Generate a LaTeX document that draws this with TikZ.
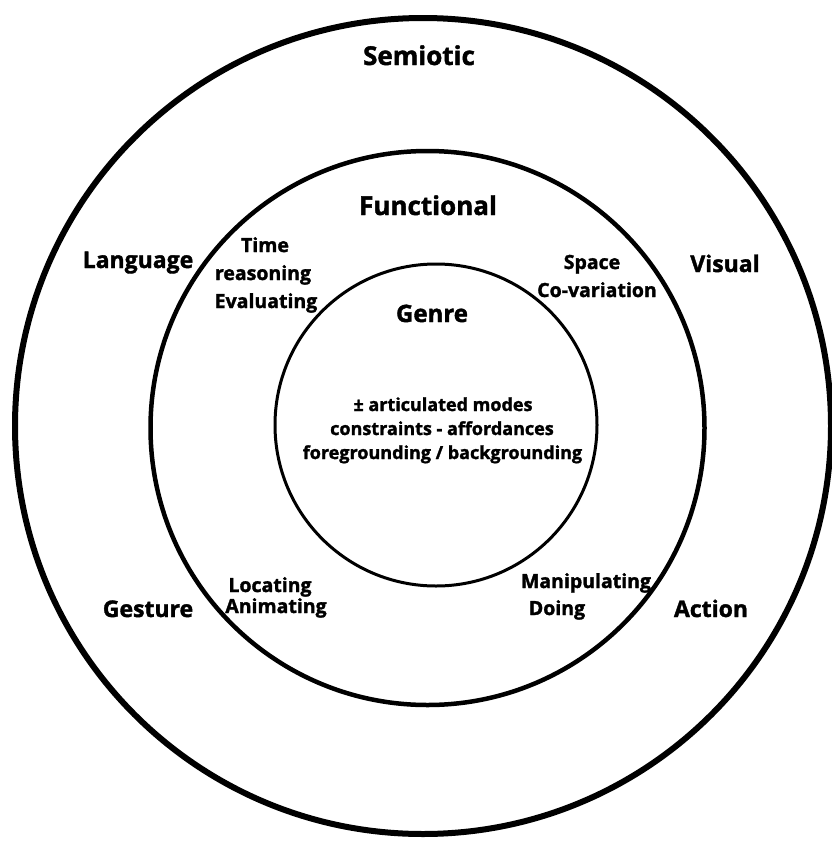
\documentclass[tikz,border=0pt]{standalone}
\usepackage{fontspec}
\setmainfont{Open Sans}[BoldFeatures={FakeBold=1.6}]
\begin{document}
\begin{tikzpicture}[x=1pt,y=-1pt,
  ring/.style={circle, draw=black, inner sep=0pt, outer sep=0pt},
  big/.style={anchor=base, font=\fontsize{26}{30}\selectfont\bfseries},
  label/.style={anchor=base, font=\fontsize{23}{26}\selectfont\bfseries},
  small/.style={anchor=base, font=\fontsize{19.5}{22}\selectfont\bfseries},
  body/.style={anchor=base, font=\fontsize{18}{20}\selectfont\bfseries}]
\useasboundingbox (0,0) rectangle (832,841);
\fill[white] (0,0) rectangle (832,841);

% three nested levels
\node[ring, line width=6pt, minimum size=816pt] (semioticring) at (423,426) {};
\node[ring, line width=4.5pt, minimum size=554pt] (functionalring) at (427.5,428) {};
\node[ring, line width=3pt, minimum size=322pt] (genrering) at (436,425) {};

% outer level: semiotic modes
\node[big] (semiotic) at (419,65) {Semiotic};
\node[label] (language) at (138,268) {Language};
\node[label] (visual) at (725,272) {Visual};
\node[label] (gesture) at (148,617) {Gesture};
\node[label] (action) at (711,617) {Action};

% middle level: functional
\node[big] (functional) at (428,215) {Functional};
\node[small] (time) at (265,252) {Time};
\node[small] (reasoning) at (263,280) {reasoning};
\node[small] (evaluating) at (266,308) {Evaluating};
\node[small] (space) at (592,269) {Space};
\node[small] (covariation) at (597,297) {Co-variation};
\node[small] (locating) at (270,592) {Locating};
\node[small] (animating) at (276,613) {Animating};
\node[small] (manipulating) at (586,588) {Manipulating};
\node[small] (doing) at (557,615) {Doing};

% inner level: genre
\node[anchor=base, font=\fontsize{24}{26}\selectfont\bfseries] (genre) at (432,322) {Genre};
\node[body] (articulated) at (443,411) {± articulated modes};
\node[body] (constraints) at (442,435) {constraints - affordances};
\node[body] (foregrounding) at (442.5,459) {foregrounding / backgrounding};
\end{tikzpicture}
\end{document}
